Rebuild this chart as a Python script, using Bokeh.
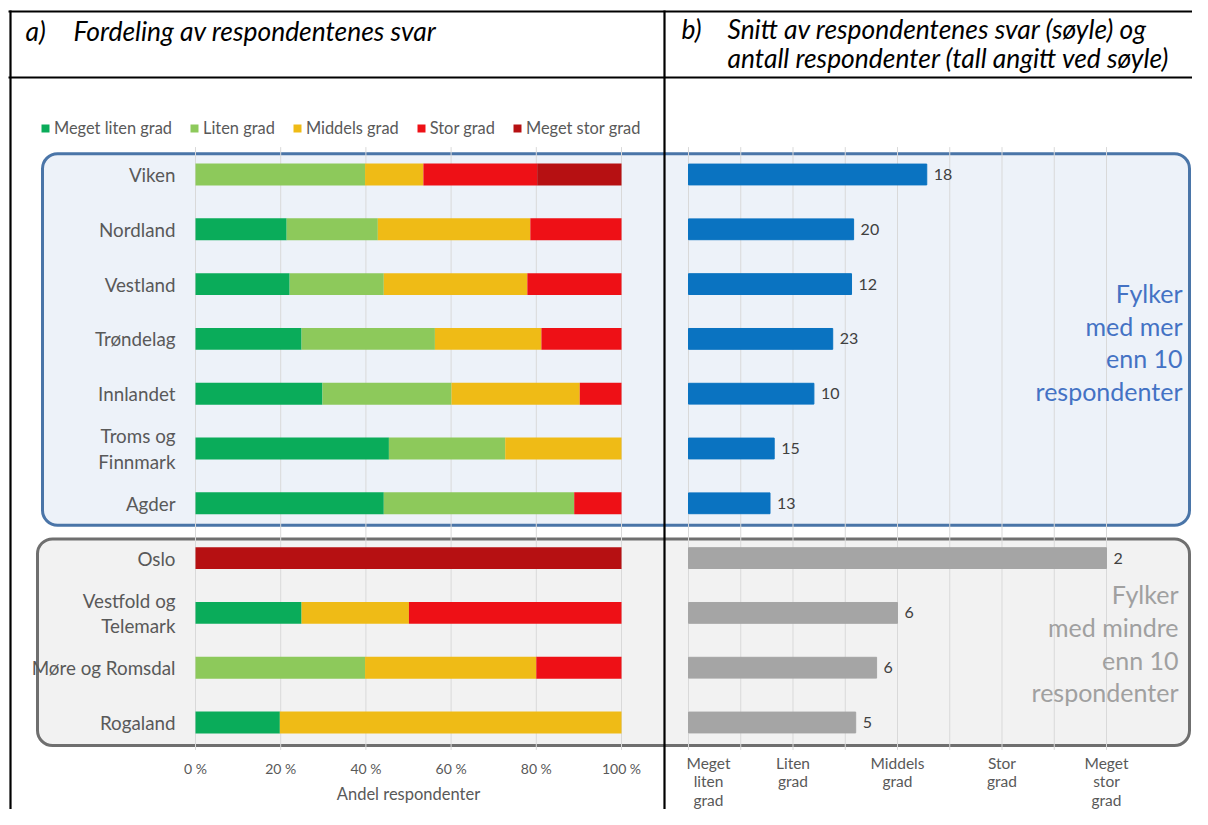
from bokeh.plotting import figure
from bokeh.models import Range1d, ColumnDataSource, BoxAnnotation
from bokeh.core.properties import value
from bokeh.embed import file_html
from bokeh.resources import INLINE

# ---------------- data ----------------
fylker = ["Viken", "Nordland", "Vestland", "Trøndelag", "Innlandet",
          "Troms og\nFinnmark", "Agder", "Oslo", "Vestfold og\nTelemark",
          "Møre og Romsdal", "Rogaland"]
gruppe = ["mer", "mer", "mer", "mer", "mer", "mer", "mer",
          "mindre", "mindre", "mindre", "mindre"]
svar_kategorier = ["Meget liten grad", "Liten grad", "Middels grad",
                   "Stor grad", "Meget stor grad"]
meget_liten = [0.0, 21.4, 22.1, 24.9, 29.8, 45.4, 44.2, 0.0, 24.9, 0.0, 19.8]
liten = [39.8, 21.4, 22.1, 31.3, 30.3, 27.3, 44.7, 0.0, 0.0, 39.8, 0.0]
middels = [13.7, 35.8, 33.7, 25.0, 30.1, 27.3, 0.0, 0.0, 25.2, 40.2, 80.2]
stor = [26.7, 21.4, 22.1, 18.8, 9.8, 0.0, 11.1, 0.0, 49.9, 20.0, 0.0]
meget_stor = [19.8, 0.0, 0.0, 0.0, 0.0, 0.0, 0.0, 100.0, 0.0, 0.0, 0.0]
snitt = [3.28, 2.58, 2.56, 2.38, 2.20, 1.82, 1.78, 5.00, 3.00, 2.80, 2.60]
antall = [18, 20, 12, 23, 10, 15, 13, 2, 6, 6, 5]

pct_ticks = [0, 20, 40, 60, 80, 100]
pct_labels = ["0 %", "20 %", "40 %", "60 %", "80 %", "100 %"]
score_ticks = [1, 2, 3, 4, 5]
score_labels = ["Meget\nliten\ngrad", "Liten\ngrad", "Middels\ngrad",
                "Stor\ngrad", "Meget\nstor\ngrad"]
score_grid = [1, 1.5, 2, 2.5, 3, 3.5, 4, 4.5, 5]

tittel_a = "Fordeling av respondentenes svar"
tittel_b = ["Snitt av respondentenes svar (søyle) og",
            "antall respondenter (tall angitt ved søyle)"]
akse_a = "Andel respondenter"
gruppe_tekst = {"mer": "Fylker\nmed mer\nenn 10\nrespondenter",
                "mindre": "Fylker\nmed mindre\nenn 10\nrespondenter"}

# ---------------- styles ----------------
FONT = "Lato"
farger = ["#0AAC5A", "#8DC95B", "#EFBB16", "#EE1016", "#B61012"]
gruppe_farge = {"mer": "#0A73C1", "mindre": "#A5A5A5"}
gruppe_tekstfarge = {"mer": "#4472C4", "mindre": "#A0A0A0"}
boks_fyll = {"mer": "#EDF2F9", "mindre": "#F2F2F2"}
boks_linje = {"mer": "#4A75A8", "mindre": "#6F6F6F"}
GREY_TXT = "#595959"

W, H = 1192, 809


def lin_ends(v0, p0, v1, p1, lo, hi):
    k = (v1 - v0) / (p1 - p0)
    return v0 + (lo - p0) * k, v0 + (hi - p0) * k


# pixel anchors of the two value scales and of the category rows
n = len(fylker)
x_pct = lin_ends(pct_ticks[0], 195, pct_ticks[-1], 621, 0, W)
x_score = lin_ends(score_ticks[0], 688, score_ticks[-1], 1106, 0, W)
y_top, y_bot = lin_ends(0, 174, n - 1, 722, 0, H)

p = figure(width=W, height=H,
           x_range=Range1d(*x_pct), y_range=Range1d(start=y_bot, end=y_top),
           x_axis_type=None, y_axis_type=None,
           toolbar_location=None, output_backend="svg", min_border=0)
p.outline_line_color = None
p.extra_x_ranges = {"page": Range1d(0, W), "score": Range1d(*x_score)}
p.extra_y_ranges = {"page": Range1d(start=H, end=0)}

idx = list(range(n))
stack_keys = ["meget_liten", "liten", "middels", "stor", "meget_stor"]
src = ColumnDataSource(dict(
    idx=idx, fylke=fylker,
    meget_liten=meget_liten, liten=liten, middels=middels,
    stor=stor, meget_stor=meget_stor,
    snitt=snitt, antall=[str(a) for a in antall],
    farge=[gruppe_farge[g] for g in gruppe],
))

# ---------------- group boxes ----------------
for g, pad_top, pad_bot, left in (("mer", 0.38, 0.40, 42), ("mindre", 0.35, 0.42, 37)):
    rows = [i for i in idx if gruppe[i] == g]
    p.add_layout(BoxAnnotation(
        left=left, right=1189, top=rows[0] - pad_top, bottom=rows[-1] + pad_bot,
        x_range_name="page", fill_color=boks_fyll[g], fill_alpha=1.0,
        line_color=boks_linje[g], line_alpha=1.0, line_width=3,
        border_radius=15, level="underlay"))

# ---------------- grid lines ----------------
p.segment(x0=pct_ticks, x1=pct_ticks, y0=[-0.5] * len(pct_ticks),
          y1=[n - 0.5] * len(pct_ticks), line_color="#D9D9D9", line_width=1)
p.segment(x0=score_grid, x1=score_grid, y0=[-0.5] * len(score_grid),
          y1=[n - 0.5] * len(score_grid), line_color="#D9D9D9", line_width=1,
          x_range_name="score")

# ---------------- panel a: stacked bars ----------------
p.hbar_stack(stack_keys, y="idx", height=0.4, color=farger, source=src,
             line_color=None, legend_label=svar_kategorier)

p.text(x=[0] * n, y=idx, text=fylker, x_offset=-20, text_align="right",
       text_baseline="middle", text_font=value(FONT), text_font_size="18.8px",
       text_color=GREY_TXT, text_line_height=1.09)

p.text(x=pct_ticks, y=[n - 0.5] * len(pct_ticks), text=pct_labels, y_offset=19,
       text_align="center", text_baseline="middle", text_font=value(FONT),
       text_font_size="14px", text_color=GREY_TXT)
p.text(x=[(pct_ticks[0] + pct_ticks[-1]) / 2], y=[n - 0.5], text=[akse_a],
       y_offset=44, text_align="center", text_baseline="middle",
       text_font=value(FONT), text_font_size="16.5px", text_color=GREY_TXT)

leg = p.legend[0]
leg.location = (40, 672)
leg.orientation = "horizontal"
leg.glyph_width = 10
leg.glyph_height = 10
leg.label_standoff = 4
leg.spacing = 17
leg.padding = 0
leg.margin = 0
leg.label_height = 18
leg.border_line_color = None
leg.background_fill_alpha = 0
leg.label_text_font = FONT
leg.label_text_font_size = "16.4px"
leg.label_text_color = GREY_TXT

# ---------------- panel b: mean bars ----------------
p.hbar(y="idx", left=score_ticks[0], right="snitt", height=0.38, color="farge",
       source=src, x_range_name="score")
p.text(x="snitt", y="idx", text="antall", source=src, x_range_name="score",
       x_offset=7, text_align="left", text_baseline="middle",
       text_font=value(FONT), text_font_size="16px", text_color="#404040")

p.text(x=score_ticks, y=[n - 0.5] * len(score_ticks), text=score_labels,
       x_offset=[20, 0, 0, 0, 0], y_offset=4, x_range_name="score",
       text_align="center", text_baseline="top", text_font=value(FONT),
       text_font_size="15.5px", text_color=GREY_TXT, text_line_height=1.03)

for g, px in (("mer", 1182), ("mindre", 1178)):
    rows = [i for i in idx if gruppe[i] == g]
    p.text(x=[px], y=[sum(rows) / len(rows)], text=[gruppe_tekst[g]],
           y_offset=3, x_range_name="page", text_align="right",
           text_baseline="middle", text_font=value(FONT), text_font_size="25px",
           text_color=gruppe_tekstfarge[g], text_line_height=1.09)

# ---------------- table frame and headers ----------------
p.segment(x0=[8, 8, 10, 664], x1=[W, W, 10, 664],
          y0=[11, 77, 10, 10], y1=[11, 77, H, H],
          x_range_name="page", y_range_name="page",
          line_color="black", line_width=2.2)

p.text(x=[25, 73], y=[30, 30], text=["a)", tittel_a], x_range_name="page",
       y_range_name="page", text_baseline="middle", text_font=value(FONT),
       text_font_style="italic", text_font_size="26.4px", text_color="black")
p.text(x=[681, 727, 727], y=[28, 28, 57.5],
       text=["b)", tittel_b[0], tittel_b[1]], x_range_name="page",
       y_range_name="page", text_baseline="middle", text_font=value(FONT),
       text_font_style="italic", text_font_size="26.4px", text_color="black")

open("out.html", "w").write(file_html(p, INLINE))
